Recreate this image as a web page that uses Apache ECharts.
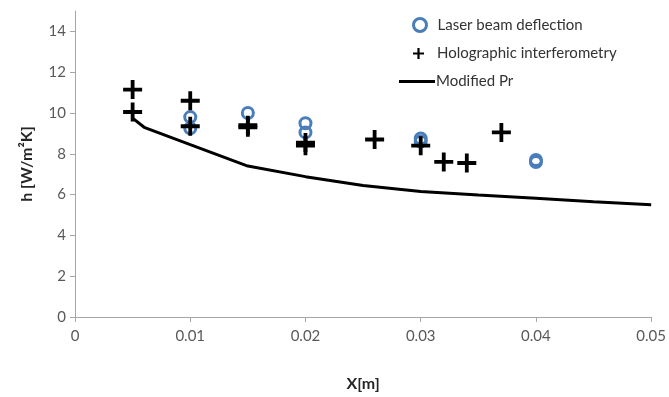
<!DOCTYPE html>
<html><head><meta charset="utf-8">
<script src="https://cdn.jsdelivr.net/npm/echarts@6/dist/echarts.min.js"></script>
<style>html,body{margin:0;padding:0;background:#fff}#c{width:669px;height:397px}</style>
</head><body><div id="c"></div>
<script>
const xTicks = [0, 0.01, 0.02, 0.03, 0.04, 0.05];
const yTicks = [0, 2, 4, 6, 8, 10, 12, 14];
const laserX = [0.01, 0.01, 0.015, 0.02, 0.02, 0.03, 0.03, 0.04, 0.04];
const laserY = [9.8, 9.25, 10.0, 9.5, 9.05, 8.75, 8.6, 7.7, 7.6];
const holoX = [0.005, 0.005, 0.01, 0.01, 0.015, 0.015, 0.02, 0.02, 0.026, 0.03, 0.032, 0.034, 0.037];
const holoY = [11.15, 10.05, 10.6, 9.35, 9.4, 9.3, 8.55, 8.4, 8.7, 8.4, 7.6, 7.55, 9.05];
const prX = [0.005, 0.006, 0.01, 0.015, 0.02, 0.025, 0.03, 0.035, 0.04, 0.045, 0.05];
const prY = [9.75, 9.3, 8.45, 7.4, 6.88, 6.45, 6.15, 5.98, 5.82, 5.65, 5.5];

const FONT = 'Lato';
const plusPath = 'path://M8,0h4v8h8v4h-8v8h-4v-8h-8v-4h8z';
const chart = echarts.init(document.getElementById('c'), null, {renderer: 'canvas'});
const zip = (a, b) => a.map((v, i) => [v, b[i]]);
chart.setOption({
  animation: false,
  textStyle: {fontFamily: FONT},
  grid: {left: 75, right: 17, top: 11, bottom: 80},
  xAxis: {
    type: 'value', min: 0, max: 0.05, interval: 0.01,
    name: 'X[m]', nameLocation: 'middle', nameGap: 59,
    nameTextStyle: {fontFamily: FONT, fontWeight: 'bold', fontSize: 16, color: '#262626'},
    axisLine: {show: true, lineStyle: {color: '#a6a6a6', width: 1}},
    axisTick: {show: true, length: 5, lineStyle: {color: '#a6a6a6'}},
    axisLabel: {fontFamily: FONT, fontSize: 15, color: '#595959', margin: 12,
      formatter: v => String(Math.round(v * 100) / 100)},
    splitLine: {show: false}
  },
  yAxis: {
    type: 'value', min: 0, max: 15,
    name: 'h [W/m\u00b2K]', nameLocation: 'middle', nameGap: 40,
    nameTextStyle: {fontFamily: FONT, fontWeight: 'bold', fontSize: 16, color: '#262626'},
    axisLine: {show: true, lineStyle: {color: '#a6a6a6', width: 1}},
    axisTick: {show: true, length: 5, lineStyle: {color: '#a6a6a6'}, customValues: yTicks},
    axisLabel: {fontFamily: FONT, fontSize: 15, color: '#595959', margin: 9, customValues: yTicks},
    splitLine: {show: false}
  },
  legend: [
    {data: [{name: 'Laser beam deflection', icon: 'circle', itemStyle: {color: '#fff', borderColor: '#4a7ebb', borderWidth: 3}}],
     left: 407, top: 12, itemWidth: 13, itemHeight: 13,
     textStyle: {fontFamily: FONT, fontSize: 15, color: '#333', padding: [0,0,0,6]}},
    {data: [{name: 'Holographic interferometry', icon: plusPath, itemStyle: {color: '#000'}}],
     left: 408, top: 41, itemWidth: 11, itemHeight: 11,
     textStyle: {fontFamily: FONT, fontSize: 15, color: '#333', padding: [0,0,0,8]}},
    {data: [{name: 'Modified Pr', icon: 'rect', itemStyle: {color: '#000'}}],
     left: 394, top: 69, itemWidth: 36, itemHeight: 3,
     textStyle: {fontFamily: FONT, fontSize: 15, color: '#333', padding: [0,0,0,-4]}}
  ],
  series: [
    {name: 'Laser beam deflection', type: 'scatter', data: zip(laserX, laserY),
     symbol: 'circle', symbolSize: 11,
     itemStyle: {color: 'rgba(0,0,0,0)', borderColor: '#4a7ebb', borderWidth: 3, opacity: 1}},
    {name: 'Holographic interferometry', type: 'scatter', data: zip(holoX, holoY),
     symbol: plusPath, symbolSize: 19, itemStyle: {color: '#000', opacity: 1}},
    {name: 'Modified Pr', type: 'line', data: zip(prX, prY), showSymbol: false, symbol: 'none',
     lineStyle: {color: '#000', width: 3}, itemStyle: {color: '#000'}}
  ]
});
</script></body></html>
